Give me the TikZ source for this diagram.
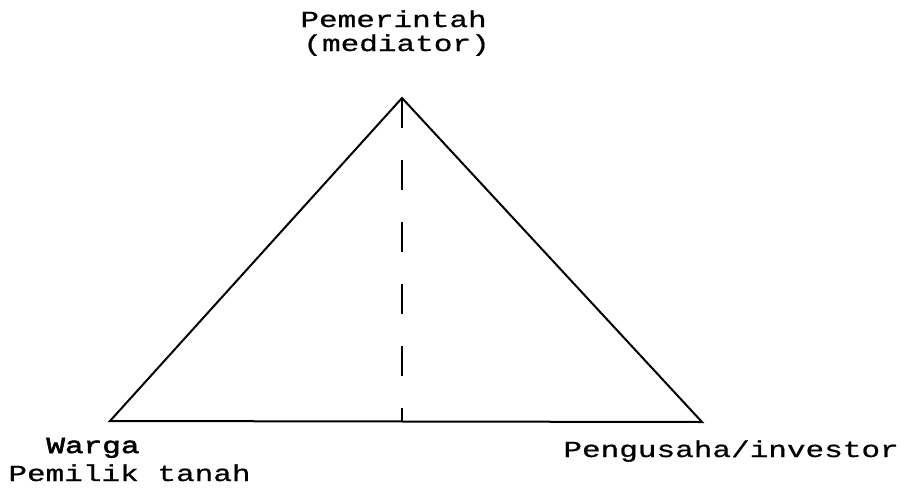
\documentclass[tikz,border=0pt]{standalone}
\usepackage{fontspec}
\newfontfamily\ketik[FakeStretch=1.35,FakeBold=0.8]{Liberation Mono}
\newfontfamily\ketiktebal[FakeStretch=1.35,FakeBold=2.5]{Liberation Mono}
\usepackage{tikz}

\begin{document}
\begin{tikzpicture}[
    x=0.5pt,y=-0.5pt,
    sisi/.style={draw=black,line width=1pt},
    poros/.style={draw=black,line width=1.1pt,dash pattern=on 15pt off 16pt},
    label/.style={anchor=base west,inner sep=0pt,font=\ketik\fontsize{11.5}{14}\selectfont},
    tebal/.style={label,font=\ketiktebal\fontsize{11.5}{14}\selectfont}
  ]
    \useasboundingbox (0,0) rectangle (918,494);

    \coordinate (puncak) at (402,98);
    \coordinate (kiri) at (110,421);
    \coordinate (kanan) at (702,422);
    \coordinate (tengah) at (402,422);

    \node[label] (pem) at (300,27) {Pemerintah};
    \node[label] (med) at (303,51) {(mediator)};

    \node[tebal] (warga) at (46,453) {Warga};
    \node[label] (pemilik) at (8,481) {Pemilik tanah};
    \node[label] (investor) at (563,457) {Pengusaha/investor};

    \draw[sisi] (kiri) -- (puncak) -- (kanan) -- cycle;
    \draw[poros] (puncak) -- (tengah);
  \end{tikzpicture}
\end{document}
